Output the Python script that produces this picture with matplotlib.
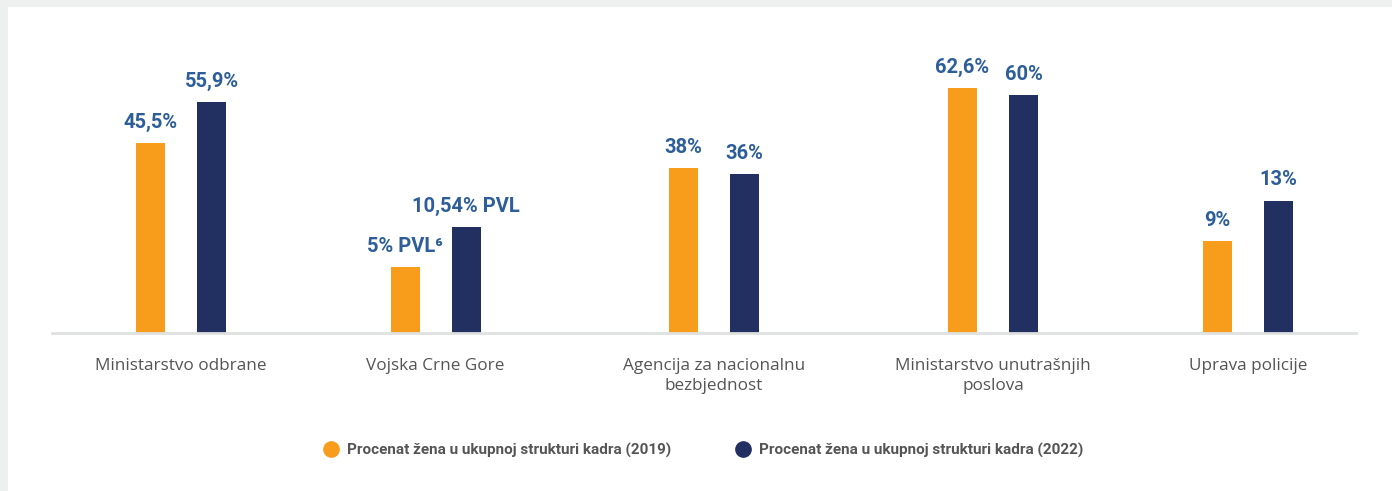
import matplotlib.pyplot as plt
from matplotlib.patches import Rectangle
from matplotlib.lines import Line2D
import numpy as np

# data
categories = ["Ministarstvo odbrane", "Vojska Crne Gore", "Agencija za nacionalnu\nbezbjednost",
              "Ministarstvo unutrašnjih\nposlova", "Uprava policije"]
# bar heights as drawn in the picture (not strictly to scale in the source)
bars_2019 = [45.8, 15.9, 39.8, 59.0, 22.2]
bars_2022 = [55.7, 25.5, 38.3, 57.3, 31.9]
labels_2019 = ["45,5%", "5% PVL⁶", "38%", "62,6%", "9%"]
labels_2022 = ["55,9%", "10,54% PVL", "36%", "60%", "13%"]
series_names = ["Procenat žena u ukupnoj strukturi kadra (2019)",
                "Procenat žena u ukupnoj strukturi kadra (2022)"]

# layout
group_x = np.array([181, 435.5, 714, 993, 1248])
orange = "#f89c1c"
navy = "#213061"
label_blue = "#2d5e99"
grey_txt = "#555555"
bold_font = ["Roboto", "DejaVu Sans"]
reg_font = ["Open Sans", "DejaVu Sans"]

W, H = 1392, 491
fig = plt.figure(figsize=(W / 100, H / 100), dpi=100)
fig.patch.set_facecolor("#eef0ef")
fig.patches.append(Rectangle((8 / W, 0), 1, 1 - 7 / H, transform=fig.transFigure,
                             facecolor="white", edgecolor="none", zorder=0))

ax = fig.add_axes([52 / W, 1 - 333 / H, (1356 - 52) / W, (333 - 7) / H])
ax.set_zorder(3)
ax.set_facecolor("none")
ax.set_xlim(52, 1356)
ax.set_ylim(0, 326 / 4.15)

bw = 29
off = 30.5
ax.bar(group_x - off, bars_2019, width=bw, color=orange, zorder=2)
ax.bar(group_x + off, bars_2022, width=bw, color=navy, zorder=2)

for x, h, t in zip(group_x - off, bars_2019, labels_2019):
    ax.annotate(t, (x, h), xytext=(0, 11), textcoords="offset points", ha="center",
                va="baseline", fontsize=14.5, fontweight="bold", color=label_blue, family=bold_font)
for x, h, t in zip(group_x + off, bars_2022, labels_2022):
    ax.annotate(t, (x, h), xytext=(0, 11), textcoords="offset points", ha="center",
                va="baseline", fontsize=14.5, fontweight="bold", color=label_blue, family=bold_font)

for s in ["top", "right", "left"]:
    ax.spines[s].set_visible(False)
ax.spines["bottom"].set_color("#dfe1e1")
ax.spines["bottom"].set_linewidth(2)
ax.set_yticks([])
ax.set_xticks(group_x)
ax.set_xticklabels(categories, fontsize=12.3, color=grey_txt, family=reg_font, linespacing=1.3)
ax.tick_params(axis="x", length=0, pad=18)

handles = [Line2D([], [], marker="o", linestyle="none", markersize=11, color=c)
           for c in (orange, navy)]
fig.legend(handles, series_names, loc="center", bbox_to_anchor=(703 / W, 1 - 450 / H), ncol=2,
           frameon=False, handletextpad=0.55, columnspacing=4.2, handlelength=1,
           prop={"family": bold_font, "weight": "bold", "size": 11}, labelcolor=grey_txt)

fig.savefig("out.png", dpi=100)
